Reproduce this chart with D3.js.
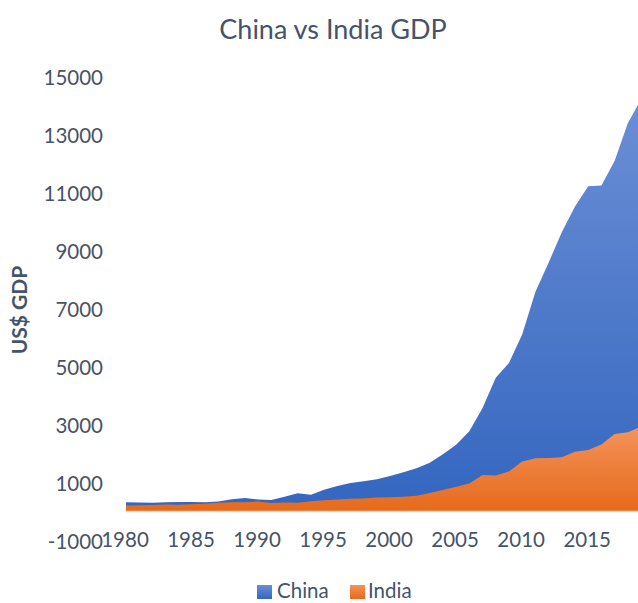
<!DOCTYPE html>
<html>
<head>
<meta charset="utf-8">
<script src="https://cdn.jsdelivr.net/npm/d3@7"></script>
<style>
  html, body { margin: 0; padding: 0; background: #fff; }
  svg { display: block; font-family: Lato, "Open Sans", sans-serif; }
</style>
</head>
<body>
<svg id="chart" width="638" height="603"></svg>
<script>
const years = [1980,1981,1982,1983,1984,1985,1986,1987,1988,1989,
               1990,1991,1992,1993,1994,1995,1996,1997,1998,1999,
               2000,2001,2002,2003,2004,2005,2006,2007,2008,2009,
               2010,2011,2012,2013,2014,2015,2016,2017,2018,2019];
const china = [305,290,283,301,310,307,298,324,404,451,
               394,383,493,613,559,734,864,962,1029,1094,
               1211,1339,1471,1660,1955,2286,2752,3550,4594,5102,
               6087,7552,8560,9610,10500,11200,11220,12070,13370,14200];
const india = [186,196,204,222,215,236,252,283,299,301,
               326,274,293,284,333,367,400,423,429,466,
               476,493,523,618,721,834,949,1238,1224,1365,
               1708,1823,1828,1857,2039,2104,2290,2652,2718,2900];
const yTicks = [-1000,1000,3000,5000,7000,9000,11000,13000,15000];
const xTicks = [1980,1985,1990,1995,2000,2005,2010,2015];
const seriesNames = ["China","India"];

const svg = d3.select("#chart");
const textColor = "#44546a";

const x = d3.scaleLinear().domain([1980, 2019]).range([126, 641]);
const y = d3.scaleLinear().domain([0, 15000]).range([511, 76]);

const defs = svg.append("defs");
function grad(id, top, bottom) {
  const g = defs.append("linearGradient").attr("id", id)
    .attr("x1", 0).attr("y1", 0).attr("x2", 0).attr("y2", 1);
  g.append("stop").attr("offset", "0%").attr("stop-color", top);
  g.append("stop").attr("offset", "100%").attr("stop-color", bottom);
}
grad("gChina", "#6b8fd5", "#3466c0");
grad("gIndia", "#f4935a", "#e66a1b");

// Title
svg.append("text")
  .attr("x", 333).attr("y", 39)
  .attr("text-anchor", "middle")
  .attr("font-size", 27)
  .attr("fill", textColor)
  .text("China vs India GDP");

// Y-axis title
svg.append("text")
  .attr("transform", "translate(27,310) rotate(-90)")
  .attr("text-anchor", "middle")
  .attr("font-size", 21)
  .attr("font-weight", "bold")
  .attr("fill", textColor)
  .text("US$ GDP");

// Areas
const area = vals => d3.area()
  .x((d, i) => x(years[i]))
  .y0(y(0))
  .y1(d => y(d))(vals);

svg.append("path").attr("d", area(china)).attr("fill", "url(#gChina)");
svg.append("path").attr("d", area(india)).attr("fill", "url(#gIndia)");

// Horizontal axis line at zero
svg.append("line")
  .attr("x1", x(1980)).attr("x2", 638)
  .attr("y1", y(0) + 0.5).attr("y2", y(0) + 0.5)
  .attr("stroke", "#d9d9d9").attr("stroke-width", 1.5);

// Y tick labels
svg.append("g").selectAll("text").data(yTicks).join("text")
  .attr("x", 103)
  .attr("y", d => y(d) + 2)
  .attr("dy", "0.35em")
  .attr("text-anchor", "end")
  .attr("font-size", 20.5)
  .attr("fill", textColor)
  .text(d => d);

// X tick labels
svg.append("g").selectAll("text").data(xTicks).join("text")
  .attr("x", d => x(d) - 1)
  .attr("y", 547)
  .attr("text-anchor", "middle")
  .attr("font-size", 20.5)
  .attr("fill", textColor)
  .text(d => d);

// Legend
const legend = [
  {name: seriesNames[0], fill: "url(#gChina)", sx: 257, tx: 277},
  {name: seriesNames[1], fill: "url(#gIndia)", sx: 350, tx: 368}
];
const lg = svg.append("g");
legend.forEach(l => {
  lg.append("rect").attr("x", l.sx).attr("y", 585).attr("width", 15).attr("height", 14)
    .attr("fill", l.fill);
  lg.append("text").attr("x", l.tx).attr("y", 598)
    .attr("font-size", 20.5).attr("fill", textColor).text(l.name);
});
</script>
</body>
</html>
